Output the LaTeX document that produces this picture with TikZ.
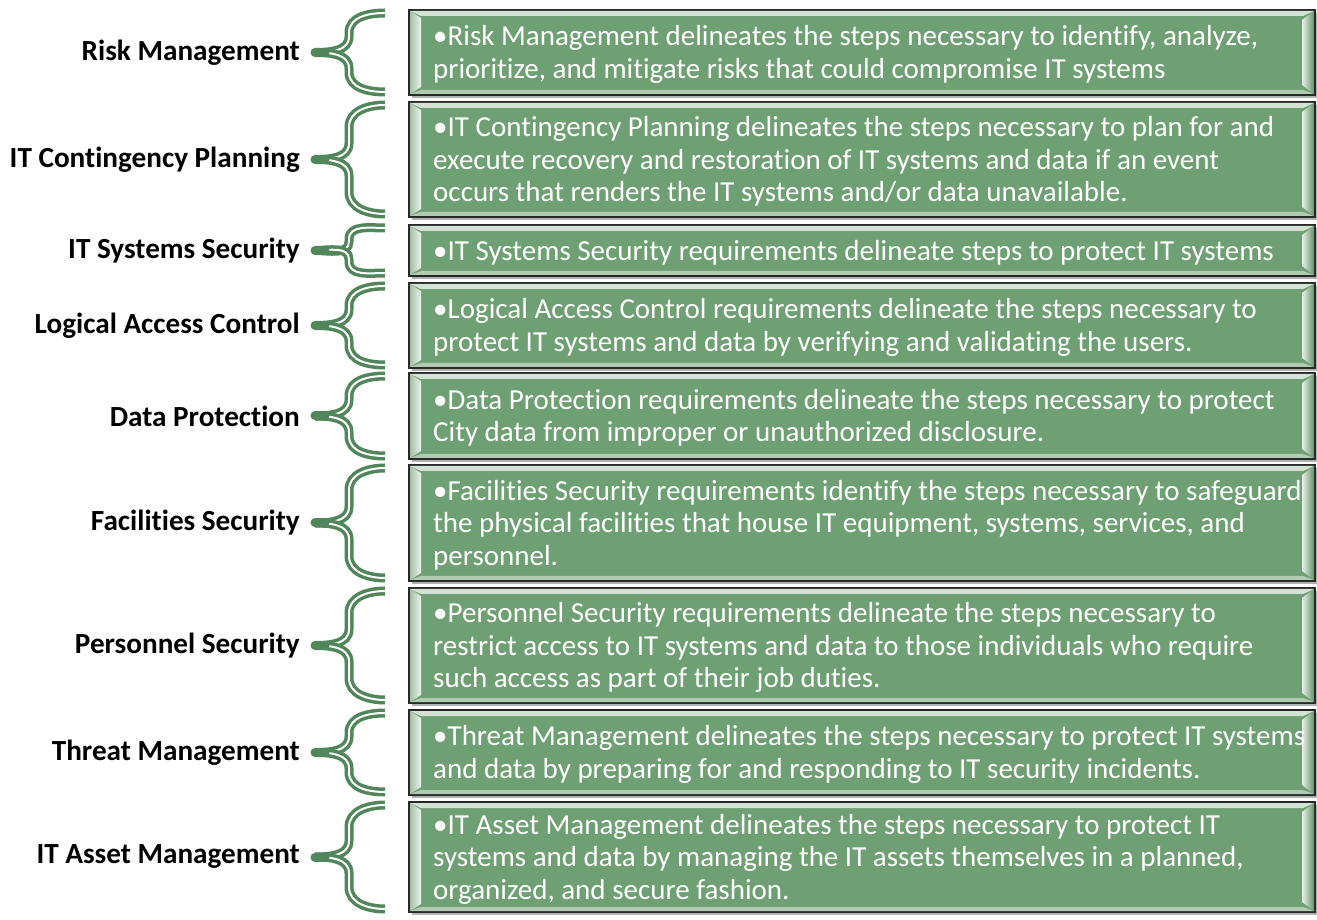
\documentclass[tikz,border=0pt]{standalone}
\usepackage{fontspec}
\setmainfont{Carlito}[Ligatures=NoCommon]
\usetikzlibrary{calc}

\definecolor{boxgreen}{RGB}{111,160,115}
\definecolor{bracegreen}{RGB}{80,134,90}
\definecolor{rimdark}{RGB}{40,40,40}

\tikzset{
  topiclabel/.style={anchor=east, inner sep=0pt, text=black,
    font=\bfseries\fontsize{29.2}{32}\selectfont},
  panel/.style={draw=rimdark, line width=1.6pt, fill=boxgreen,
    inner sep=0pt, outer sep=0pt, anchor=north west},
  paneltext/.style={anchor=west, align=left, inner sep=0pt, text=white,
    font=\fontsize{29}{32.5}\selectfont},
  bracearm/.style={draw=bracegreen, line width=3.5pt, double=white,
    double distance=2pt, line cap=butt},
  bracetip/.style={draw=bracegreen, line width=9pt, line cap=round},
}

% #1 name, #2 top edge, #3 bottom edge, #4 topic, #5 description
\newcommand\topicrow[5]{%
  \pgfmathsetmacro\ymid{(#2+#3)/2}%
  \pgfmathsetmacro\hh{#2-#3}%
  \pgfmathsetmacro\half{#2-3-\ymid}%
  \pgfmathsetmacro\ra{min(16,0.4*\half)}%
  \pgfmathsetmacro\rb{min(22,0.5*\half)}%
  % shadow under the panel
  \fill[black!30] (412,#2-3) rectangle (1317,#3-3);
  \node[panel, minimum width=906pt, minimum height=\hh pt] (#1) at (409,#2) {};
  % bevelled rim
  \fill[white!70!boxgreen] ($(#1.north west)+(1,-1)$) -- ($(#1.north east)+(-1,-1)$)
    -- ($(#1.north east)+(-12,-6)$) -- ($(#1.north west)+(12,-6)$) -- cycle;
  \fill[white!45!boxgreen] ($(#1.south west)+(1,1)$) -- ($(#1.south east)+(-1,1)$)
    -- ($(#1.south east)+(-12,5)$) -- ($(#1.south west)+(12,5)$) -- cycle;
  \shade[left color=white!35!boxgreen, right color=white!88!boxgreen]
    ($(#1.north west)+(1,-1)$) -- ($(#1.north west)+(12,-8)$)
    -- ($(#1.south west)+(12,8)$) -- ($(#1.south west)+(1,1)$) -- cycle;
  \shade[left color=white!85!boxgreen, right color=boxgreen!92!black]
    ($(#1.north east)+(-1,-1)$) -- ($(#1.north east)+(-13,-10)$)
    -- ($(#1.south east)+(-13,10)$) -- ($(#1.south east)+(-1,1)$) -- cycle;
  \node[paneltext] (#1t) at (433,\ymid-2) {#5};
  \node[topiclabel] (#1l) at (300,\ymid) {#4};
  % curly brace joining the topic to its panel
  \coordinate (#1tip) at ([xshift=15pt]#1l.east);
  \draw[bracearm] (#1tip) to[out=0,in=-90] ($(#1tip)+(34,\ra)$)
    -- (349,#2-3-\rb) to[out=90,in=180] ($(#1.north west)+(-24,-3)$);
  \draw[bracearm] (#1tip) to[out=0,in=90] ($(#1tip)+(34,-\ra)$)
    -- (349,#3+3+\rb) to[out=-90,in=180] ($(#1.south west)+(-24,3)$);
  \draw[bracetip] (#1tip) -- ++(10,0);
}

\begin{document}
\begin{tikzpicture}[x=1pt,y=1pt]
\useasboundingbox (0,0) rectangle (1317,919);
\fill[white] (0,0) rectangle (1317,919);

\topicrow{risk}{909}{824}{Risk Management}
  {•Risk Management delineates the steps necessary to identify, analyze,\\
   prioritize, and mitigate risks that could compromise IT systems}
\topicrow{cont}{817}{702}{IT Contingency Planning}
  {•IT Contingency Planning delineates the steps necessary to plan for and\\
   execute recovery and restoration of IT systems and data if an event\\
   occurs that renders the IT systems and/or data unavailable.}
\topicrow{sys}{694}{643}{IT Systems Security}
  {•IT Systems Security requirements delineate steps to protect IT systems}
\topicrow{access}{636}{551}{Logical Access Control}
  {•Logical Access Control requirements delineate the steps necessary to\\
   protect IT systems and data by verifying and validating the users.}
\topicrow{data}{546}{460}{Data Protection}
  {•Data Protection requirements delineate the steps necessary to protect\\
   City data from improper or unauthorized disclosure.}
\topicrow{fac}{454}{338}{Facilities Security}
  {•Facilities Security requirements identify the steps necessary to safeguard\\
   the physical facilities that house IT equipment, systems, services, and\\
   personnel.}
\topicrow{pers}{331}{216}{Personnel Security}
  {•Personnel Security requirements delineate the steps necessary to\\
   restrict access to IT systems and data to those individuals who require\\
   such access as part of their job duties.}
\topicrow{threat}{209}{124}{Threat Management}
  {•Threat Management delineates the steps necessary to protect IT systems\\
   and data by preparing for and responding to IT security incidents.}
\topicrow{asset}{117}{7}{IT Asset Management}
  {•IT Asset Management delineates the steps necessary to protect IT\\
   systems and data by managing the IT assets themselves in a planned,\\
   organized, and secure fashion.}
\end{tikzpicture}
\end{document}
